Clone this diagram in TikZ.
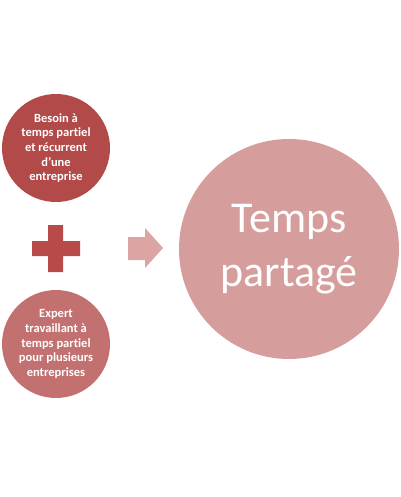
\documentclass[tikz,border=0pt]{standalone}
\usepackage{fontspec}
\setmainfont[Ligatures={NoCommon}]{Carlito}
\definecolor{cA}{HTML}{B14A48}
\definecolor{cB}{HTML}{C37170}
\definecolor{cPlus}{HTML}{B94A4A}
\definecolor{cArrow}{HTML}{DCA4A3}
\definecolor{cBig}{HTML}{D59D9C}
\begin{document}
\begin{tikzpicture}[x=1pt,y=-1pt,
  small/.style={circle,minimum size=108pt,inner sep=0pt,text=white,align=center,
    font=\fontsize{12.5}{14.6}\selectfont\bfseries},
  big/.style={circle,minimum size=220pt,inner sep=0pt,text=white,align=center,
    font=\fontsize{44}{54}\selectfont}]
\useasboundingbox (0,0) rectangle (400,497);
\node[small,fill=cA] (a) at (56,148) {Besoin à\\temps partiel\\et récurrent\\d’une\\entreprise};
\node[small,fill=cB] (b) at (56,344) {Expert\\travaillant à\\temps partiel\\pour plusieurs\\entreprises};
\node[big,fill=cBig] (c) at (289,249) {Temps\\partagé};
\fill[cPlus] (48,225) rectangle (63,272) (32,241) rectangle (80,256);
\fill[cArrow] (128,237) -- (145,237) -- (145,228) -- (163,248) -- (145,268) -- (145,260) -- (128,260) -- cycle;
\end{tikzpicture}
\end{document}
